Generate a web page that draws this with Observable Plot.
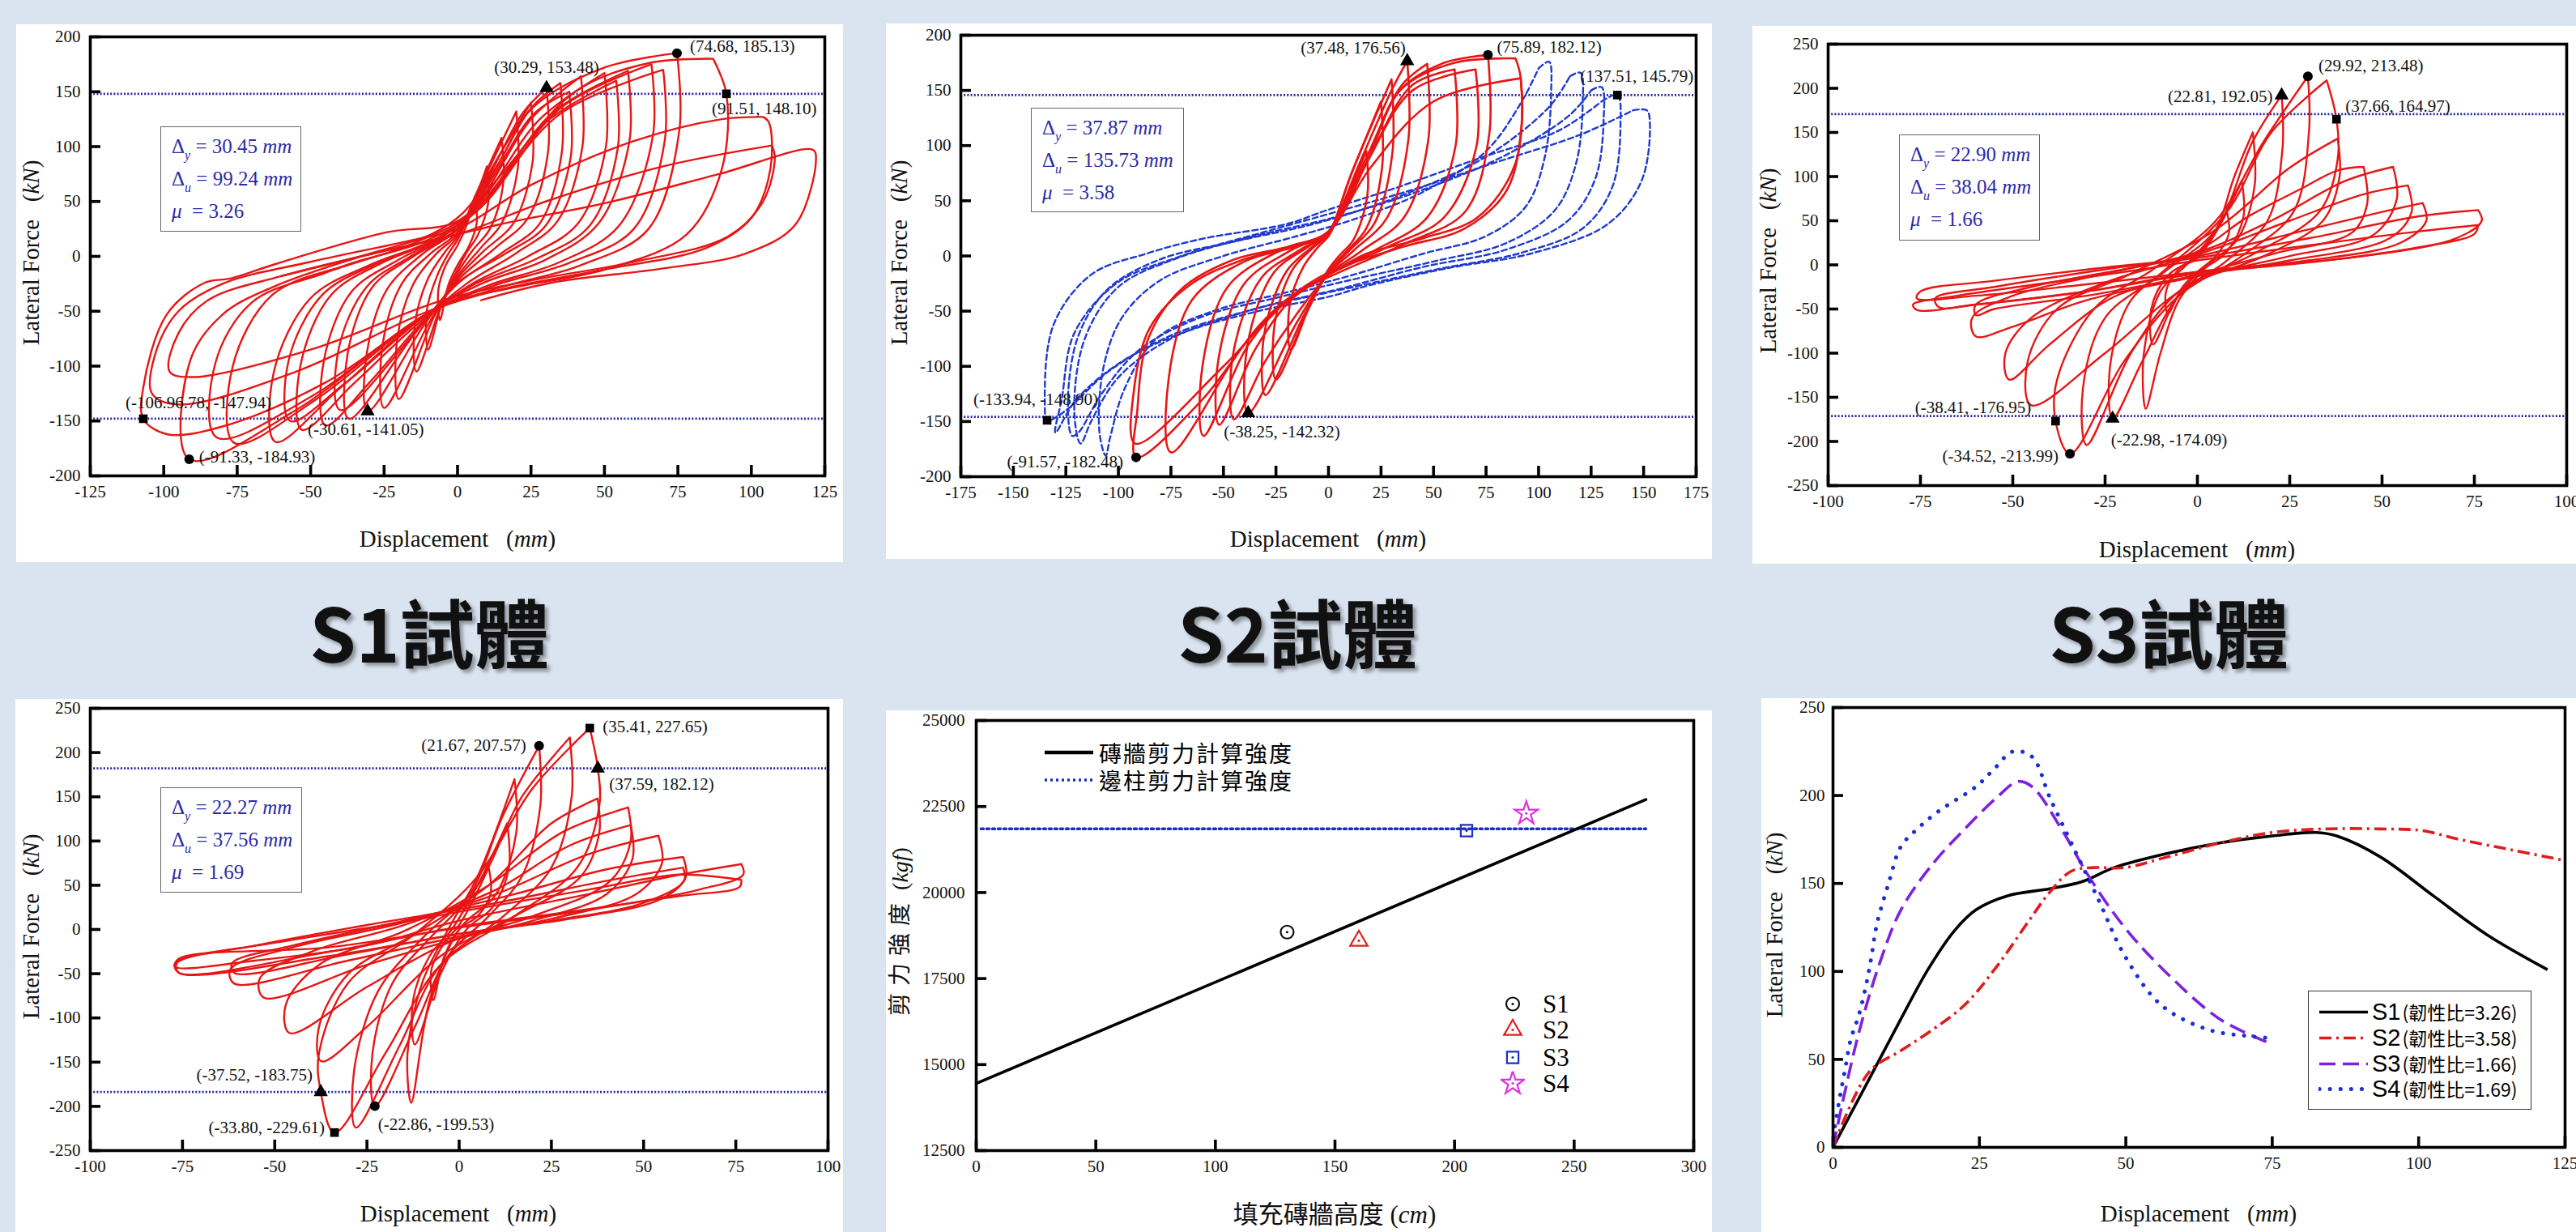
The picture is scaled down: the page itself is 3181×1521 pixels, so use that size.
<!DOCTYPE html>
<html><head><meta charset="utf-8">
<script src="https://cdn.jsdelivr.net/npm/d3@7"></script>
<script src="https://cdn.jsdelivr.net/npm/@observablehq/plot@0.6"></script>
<style>
body{margin:0;background:#dae4f0;width:3181px;height:1521px;position:relative;overflow:hidden;font-family:"Liberation Serif","Times New Roman","DejaVu Serif",serif;}
.panel{position:absolute;background:#fff;}
.panel>svg{position:absolute;left:0;top:0;overflow:visible;}
.xlab,.ylab{position:absolute;font-size:29px;white-space:nowrap;color:#111;line-height:1;font-family:"Liberation Serif","Times New Roman","DejaVu Serif",serif;}
.xlab{transform:translate(-50%,-50%);}
.ylab{transform:translate(-50%,-50%) rotate(-90deg);}
.info{position:absolute;border:1.5px solid #666;color:#2b2ba6;font-size:25px;line-height:40px;padding:4px 0 0 13px;box-sizing:border-box;background:#fff;white-space:nowrap;font-family:"Liberation Serif","Times New Roman","DejaVu Serif",serif;}
.info sub{font-size:16px;vertical-align:-8px;line-height:0;}
.title{position:absolute;font-family:"Noto Sans CJK TC",sans-serif;font-weight:700;font-size:92px;color:#111;transform:translate(-50%,-50%);text-shadow:4px 4px 4px rgba(0,0,0,0.35);white-space:nowrap;}
.leg{position:absolute;white-space:nowrap;}
.row{position:absolute;left:0;white-space:nowrap;display:flex;align-items:center;transform:translateY(-50%);line-height:1;}
.cjk{font-family:"Noto Sans CJK TC","Noto Sans CJK SC",sans-serif;}
.serif{font-family:"Liberation Serif","Times New Roman","DejaVu Serif",serif;}
.sans{font-family:"Liberation Sans","DejaVu Sans",sans-serif;}
</style>
</head><body>
<script>
// ---------------- DATA ----------------
const titles = ["S1試體", "S2試體", "S3試體"];

const ticksX125 = [-125,-100,-75,-50,-25,0,25,50,75,100,125];
const ticksX175 = [-175,-150,-125,-100,-75,-50,-25,0,25,50,75,100,125,150,175];
const ticksX100 = [-100,-75,-50,-25,0,25,50,75,100];
const ticksY200 = [-200,-150,-100,-50,0,50,100,150,200];
const ticksY250 = [-250,-200,-150,-100,-50,0,50,100,150,200,250];

// S1 hysteresis loops (displacement mm, force kN)
const s1Loops = [
"6,55 6.5,30 4,10 0,-8 -3,-25 -6,-58 -6.5,-30 -4,-8 0,10 3,28 6,55",
"10,82 10.5,50 7,20 3,3 0,-12 -5,-40 -10,-85 -10.5,-50 -7,-18 -3,3 0,15 5,45 10,82",
"15,108 15.5,65 11,25 5,5 0,-15 -6,-48 -14,-105 -14.5,-62 -10,-20 -4,5 0,18 6,55 15,108",
"20,132 20.5,80 15,30 8,8 0,-18 -8,-55 -20,-130 -20.5,-75 -15,-25 -7,3 0,20 8,65 20,132",
"25,140 25.5,85 19,30 9,5 0,-20 -10,-62 -25,-138 -25.5,-80 -19,-25 -9,3 0,22 9,68 25,140",
"30.29,153.48 30.8,95 24,35 13,8 0,-22 -12,-65 -30.61,-141.05 -31,-90 -24,-30 -12,2 0,25 12,80 22,130 30.29,153.48",
"35,158 35.5,95 28,30 15,3 0,-25 -15,-72 -37,-148 -37.5,-90 -29,-28 -15,0 0,25 12,75 25,135 35,158",
"38,150 38.5,90 30,28 16,2 0,-24 -14,-68 -40,-140 -40.5,-85 -31,-28 -16,0 0,24 12,72 26,130 38,150",
"42,164 42.5,100 34,32 20,3 3,-25 -12,-60 -30,-115 -45,-154 -45.5,-95 -36,-32 -20,-3 0,25 10,60 25,125 42,164",
"50,167 50.5,100 41,30 24,0 5,-25 -12,-58 -35,-115 -53,-158 -53.5,-100 -43,-35 -25,-5 -5,18 8,50 28,125 50,167",
"54,160 54.5,98 45,28 27,-2 6,-25 -12,-56 -38,-115 -57,-150 -57.5,-95 -46,-35 -27,-6 -6,17 8,48 30,122 54,160",
"58,169 58.5,105 48,30 30,-3 8,-25 -12,-55 -40,-120 -62,-169 -62.5,-105 -50,-38 -30,-8 -8,15 8,45 32,130 58,169",
"66,175 66.5,110 55,28 35,-5 10,-27 -12,-55 -48,-130 -76,-170 -76.5,-100 -63,-35 -38,-8 -10,15 8,45 35,135 66,175",
"70,170 70.5,105 60,25 38,-6 12,-27 -11,-53 -50,-128 -82,-165 -82.5,-98 -70,-42 -45,-15 -15,12 5,40 35,130 70,170",
"74.68,185.13 75.5,115 65,25 42,-8 15,-28 -10,-52 -55,-140 -91.33,-184.93 -91,-95 -80,-53 -62,-27 -33,0 -9,20 2,40 14,85 25,134 50,172 74.68,185.13",
"87,180 91.51,148.1 90,80 78,20 50,-12 20,-28 -5,-45 -45,-115 -80,-155 -99,-162 -106.96,-147.94 -107,-120 -99,-53 -86,-24 -77,-20 -62,-7 -24,22 0,32 15,75 40,150 65,176 87,180",
"104,127 106,122 106.5,80 100,35 85,8 50,-12 15,-30 -10,-50 -55,-105 -95,-135 -104,-125 -103,-90 -95,-50 -80,-25 -50,-5 -15,15 0,25 25,65 60,105 90,125 104,127",
"107,101 108,90 104,50 92,18 60,-5 25,-22 -5,-40 -50,-85 -90,-110 -98,-105 -95,-70 -85,-40 -60,-18 -25,5 0,20 30,50 70,82 107,101",
"-60,-18 -25,5 0,20 14,29 51,49 89,75 121,97 122,88 115,29 98,2.5 70,-11 32,-24 8,-40"
];
const s1Points = [
  {x:30.29, y:153.48, sym:"triangle", label:"(30.29, 153.48)"},
  {x:74.68, y:185.13, sym:"circle", label:"(74.68, 185.13)"},
  {x:91.51, y:148.10, sym:"square", label:"(91.51, 148.10)"},
  {x:-106.96, y:-147.94, sym:"square", label:"(-106.96.78, -147.94)"},
  {x:-91.33, y:-184.93, sym:"circle", label:"(-91.33, -184.93)"},
  {x:-30.61, y:-141.05, sym:"triangle", label:"(-30.61, -141.05)"}
];
const s1Limits = [148.10, -147.94];
const s1Info = ["30.45", "99.24", "3.26"];

// S2 hysteresis loops: red (solid) and blue (dashed)
const s2LoopsRed = [
"18,95 18.5,55 12,15 5,0 0,-12 -8,-40 -18,-85 -18.5,-45 -12,-10 -5,8 0,18 8,50 18,95",
"25,140 25.5,80 18,25 8,3 0,-14 -10,-50 -25,-112 -25.5,-60 -17,-12 -7,8 0,20 10,70 25,140",
"30,160 30.5,95 22,30 10,5 0,-15 -12,-55 -30,-126 -30.5,-70 -20,-14 -8,8 0,21 12,80 30,160",
"37.48,176.56 38,105 28,35 12,5 0,-16 -15,-60 -38.25,-142.32 -38.5,-80 -26,-15 -10,8 0,22 15,85 30,150 37.48,176.56",
"47,174 47.5,105 36,35 16,5 0,-17 -16,-55 -30,-95 -45,-148 -45.5,-90 -32,-20 -14,5 0,22 17,85 35,155 47,174",
"60,169 60.5,100 47,35 22,5 0,-17 -18,-40 -35,-85 -52,-153 -52.5,-95 -40,-25 -18,5 0,22 18,84 40,155 60,169",
"70,169 70.5,100 55,35 28,8 0,-17 -18,-38 -38,-80 -59.5,-163 -60,-100 -48,-28 -22,6 0,22 18,84 40,150 70,169",
"75.89,182.12 76.5,110 65,40 35,10 5,-15 -18,-37 -40,-80 -75,-178 -76,-110 -65,-40 -40,-5 -15,9 0,22 18,84 34,150 55,175 75.89,182.12",
"89,179 91.5,161 89,84 71,35 45,16 18,2 0,-17 -18,-37 -33,-63 -60,-130 -91.57,-182.48 -91,-140 -86,-76 -70,-30 -46,-4 -18,9 0,22 18,84 34,150 60,175 89,179",
"91.5,161 92,120 85,60 65,25 35,8 0,-15 -20,-40 -50,-100 -92,-170 -92.5,-120 -85,-65 -65,-25 -40,-3 -15,10 0,22 20,80 50,140 91.5,161"
];
const s2LoopsBlue = [
"100,170 105,176 106,150 103,90 94,45 75,18 45,2 10,-18 -20,-33 -55,-50 -82,-75 -97,-120 -104,-165 -106,-181 -109,-160 -107,-100 -98,-55 -80,-22 -50,0 -15,18 15,35 45,58 75,95 92,140 100,170",
"115,163 120,166 121,140 118,85 108,42 85,12 50,-5 10,-22 -25,-38 -60,-55 -90,-85 -108,-125 -119,-160 -122,-163 -124,-130 -119,-72 -105,-30 -80,-3 -45,13 -5,30 35,55 75,90 105,135 115,163",
"125,150 130,153 131,125 127,70 114,32 85,6 45,-10 5,-30 -35,-48 -75,-75 -100,-110 -113,-150 -118,-170 -121,-140 -116,-75 -100,-28 -72,-2 -35,18 5,36 45,60 85,92 115,128 125,150",
"130,140 137.51,145.79 139,120 135,62 121,25 92,3 52,-12 0,-33 -35,-48 -75,-72 -105,-105 -125,-140 -133.94,-148.9 -135,-135 -131,-63 -113,-17 -86,2.5 -60,15.6 -20.5,28.7 0,42 31,61 71,88 110,114 130,140",
"145,132 151.5,132 153,120 149,68 133,29 97,2.5 58,-10.6 18.6,-27 0,-37 -33.5,-50 -70,-70 -98.6,-96 -120,-130 -130,-160 -127,-130 -121,-70 -101,-25 -70,0 -30,22 0,38 40,60 80,85 120,110 145,132"
];
const s2Points = [
  {x:37.48, y:176.56, sym:"triangle", label:"(37.48, 176.56)"},
  {x:75.89, y:182.12, sym:"circle", label:"(75.89, 182.12)"},
  {x:137.51, y:145.79, sym:"square", label:"(137.51, 145.79)"},
  {x:-133.94, y:-148.90, sym:"square", label:"(-133.94, -148.90)"},
  {x:-91.57, y:-182.48, sym:"circle", label:"(-91.57, -182.48)"},
  {x:-38.25, y:-142.32, sym:"triangle", label:"(-38.25, -142.32)"}
];
const s2Limits = [145.79, -145.79];
const s2Info = ["37.87", "135.73", "3.58"];

// S3 hysteresis loops
const s3Loops = [
"8,60 8.5,35 5,10 0,-8 -4,-25 -8,-55 -8.5,-30 -5,-5 0,8 4,30 8,60",
"12,95 12.5,55 8,15 0,-10 -6,-40 -12,-90 -12.5,-50 -8,-12 0,10 6,45 12,95",
"15,150 15.5,90 11,30 3,0 -5,-40 -10,-100 -14,-163 -14.5,-100 -10,-30 -3,0 5,40 10,100 15,150",
"22.81,192.05 23,130 19,50 8,5 -5,-35 -15,-110 -22.98,-174.09 -23.5,-110 -18,-40 -8,-5 5,40 15,140 22.81,192.05",
"29.92,213.48 30.2,150 26,60 12,10 -5,-35 -20,-110 -34.52,-213.99 -38.41,-176.95 -38,-130 -28,-50 -12,-5 5,50 18,140 29.92,213.48",
"35,209 37.66,164.97 38,120 33,60 15,12 -5,-30 -18,-100 -30,-204 -31,-140 -25,-60 -10,-10 8,60 20,150 35,209",
"38,143 38.5,100 34,50 18,10 -3,-25 -25,-100 -45,-159 -46,-110 -38,-50 -18,-10 5,40 25,110 38,143",
"45,111 46,70 42,37 21,13 -1,-12 -22.5,-36 -40,-90 -51,-130 -52,-100 -45,-60 -25,-20 -1,13 13.5,54 28,86 38,107 45,111",
"53,111 54,75 48,35 25,10 0,-13 -30,-40 -50,-70 -60,-81 -61,-60 -50,-35 -25,-10 0,14 20,50 40,95 53,111",
"57,90 58,60 52,30 25,5 0,-12 -30,-35 -55,-50 -60,-57 -60,-45 -45,-25 -20,-5 0,12 25,50 45,80 57,90",
"61,70 62,50 55,25 30,5 0,-8 -30,-30 -60,-45 -70,-48 -71,-38 -55,-25 -25,-5 0,10 30,40 50,60 61,70",
"76,62 77,50 70,30 45,10 15,-2 0,-8 -30,-22 -60,-35 -76,-38 -75,-30 -55,-18 -25,-3 0,8 30,30 60,55 76,62",
"76,45 75,35 60,20 35,5 0,-10 -30,-30 -60,-45 -76,-51 -77,-45 -65,-35 -40,-20 -15,-5 0,5 30,22 60,38 76,45"
];
const s3Points = [
  {x:29.92, y:213.48, sym:"circle", label:"(29.92, 213.48)"},
  {x:22.81, y:192.05, sym:"triangle", label:"(22.81, 192.05)"},
  {x:37.66, y:164.97, sym:"square", label:"(37.66, 164.97)"},
  {x:-38.41, y:-176.95, sym:"square", label:"(-38.41, -176.95)"},
  {x:-34.52, y:-213.99, sym:"circle", label:"(-34.52, -213.99)"},
  {x:-22.98, y:-174.09, sym:"triangle", label:"(-22.98, -174.09)"}
];
const s3Limits = [170.8, -171.2];
const s3Info = ["22.90", "38.04", "1.66"];

// S4 hysteresis loops
const s4Loops = [
"8,70 8.5,40 5,15 0,0 -4,-30 -7,-80 -7.5,-45 -4,-15 0,5 4,35 8,70",
"13,120 13.5,70 9,25 2,0 -5,-50 -12,-130 -12.5,-80 -8,-30 -2,0 5,50 13,120",
"15,170 15.5,110 10,40 0,0 -8,-80 -13,-196 -14,-140 -10,-60 -3,0 5,60 15,170",
"21.67,207.57 22,140 17,60 8,15 -3,-30 -12,-110 -22.86,-199.53 -23.5,-140 -18,-60 -8,-10 3,40 12,130 21.67,207.57",
"30,217 30.5,150 25,70 12,15 -5,-40 -16,-130 -28,-224 -28.5,-160 -22,-70 -10,-10 5,50 17,150 30,217",
"35.41,227.65 37.59,182.12 38,140 32,70 15,15 -5,-40 -20,-140 -33.8,-229.61 -37.52,-183.75 -38,-140 -30,-60 -12,-5 5,60 20,160 35.41,227.65",
"37.5,148 38,110 33,60 15,15 -5,-30 -25,-110 -37.4,-149 -38,-110 -30,-50 -12,-5 8,50 25,120 37.5,148",
"45.8,138 46.5,100 41,55 20,15 -3,-15 -25,-65 -46,-117 -47,-85 -38,-40 -15,-2 8,50 28,110 45.8,138",
"46.5,118 47,80 40,40 20,10 0,-10 -25,-40 -53,-77 -54,-55 -40,-25 -15,5 10,45 30,95 46.5,118",
"54,106 55,75 48,40 25,12 0,-8 -30,-35 -61,-61 -62,-45 -45,-20 -15,8 10,40 35,85 54,106",
"60.7,82 61.5,60 55,35 30,12 0,-5 -30,-28 -61,-49 -61.5,-38 -45,-18 -15,10 15,40 40,68 60.7,82",
"60.7,70 61,55 50,30 25,10 0,-5 -35,-30 -76,-49 -76.5,-38 -55,-18 -25,5 10,30 40,55 60.7,70",
"76.5,74 77,62 65,45 35,22 0,2 -35,-20 -76,-33 -77,-42 -55,-35 -25,-18 0,10 35,40 60,62 76.5,74",
"76.5,56 76,48 60,38 30,20 0,3 -35,-25 -76,-49 -77,-38 -50,-15 -20,5 0,20 35,45 60,62 76.5,56"
];
const s4Points = [
  {x:21.67, y:207.57, sym:"circle", label:"(21.67, 207.57)"},
  {x:35.41, y:227.65, sym:"square", label:"(35.41, 227.65)"},
  {x:37.59, y:182.12, sym:"triangle", label:"(37.59, 182.12)"},
  {x:-37.52, y:-183.75, sym:"triangle", label:"(-37.52, -183.75)"},
  {x:-33.80, y:-229.61, sym:"square", label:"(-33.80, -229.61)"},
  {x:-22.86, y:-199.53, sym:"circle", label:"(-22.86, -199.53)"}
];
const s4Limits = [182.12, -183.75];
const s4Info = ["22.27", "37.56", "1.69"];

// Shear strength vs infill height
const heightTicks = [0,50,100,150,200,250,300];
const shearTicks = [12500,15000,17500,20000,22500,25000];
const wallShear = [{h:0, v:14450}, {h:280, v:22700}];
const columnShear = [{h:2, v:21850}, {h:280, v:21850}];
const specimens = [
  {name:"S1", h:130, v:18850},
  {name:"S2", h:160, v:18600},
  {name:"S3", h:205, v:21800},
  {name:"S4", h:230, v:22300}
];
const shearLegend = ["磚牆剪力計算強度", "邊柱剪力計算強度"];

// Envelope curves
const envTicksX = [0,25,50,75,100,125];
const envTicksY = [0,50,100,150,200,250];
const envNames = ["S1","S2","S3","S4"];
const envDuctility = ["3.26","3.58","1.66","1.69"];
const envS1 = [[0,0],[6.2,39],[11.6,73],[16.2,101],[20.7,123],[24.4,135],[29.8,143],[37,147],[42.5,151],[48,159],[57,167],[66,173],[75,177],[82.5,179],[86,177],[93.5,165],[102.5,143],[111.6,121],[122,101]];
const envS2 = [[0,0],[6.2,43],[11.6,55],[16.2,65],[22.5,81],[28,103],[33.5,129],[37,145],[40.7,157],[44.4,159],[49.8,159],[57,165],[66,173],[75,179],[84,181],[93.5,181],[100.7,180],[107,175],[116,169],[125,163]];
const envS3 = [[0,0],[1.6,25],[4.4,65],[8,105],[11.6,135],[17,161],[22.5,181],[28,199],[31.6,208],[34,205],[39,181],[43.5,155],[49.8,125],[57,99],[66,73],[74,60]];
const envS4 = [[0,0],[0.3,11],[1.2,29],[2.1,45],[3,61],[4.4,75],[5.7,93],[6.6,109],[7.5,127],[9.4,149],[11.6,171],[14.4,181],[18,191],[24.4,205],[27.5,215],[30.7,225],[34,222],[37,199],[40.7,173],[45.3,141],[49.8,109],[56,81],[64,67],[71.6,63],[75.3,62]];

// ---------------- RENDER ----------------
const FONT = "Liberation Serif, Times New Roman, DejaVu Serif, serif";
const fmt = d => String(d);

function parseLoops(loops) {
  return loops.flatMap((s, i) => s.trim().split(/\s+/).map(p => {
    const [x, y] = p.split(",").map(Number);
    return {x, y, loop: i};
  }));
}

function panel(box) {
  const div = document.createElement("div");
  div.className = "panel";
  Object.assign(div.style, {left: box.left + "px", top: box.top + "px", width: box.W + "px", height: box.H + "px"});
  document.body.appendChild(div);
  return div;
}

function addHTML(div, cls, pos, html) {
  const e = document.createElement("div");
  e.className = cls;
  for (const k in pos) e.style[k] = typeof pos[k] === "number" ? pos[k] + "px" : pos[k];
  e.innerHTML = html;
  div.appendChild(e);
  return e;
}

function frameMarks(xTicks, yTicks, pw, ph) {
  return [
    Plot.tickX(xTicks, {x: d => d, insetTop: ph - 13, stroke: "#000", strokeWidth: 3.6}),
    Plot.tickY(yTicks, {y: d => d, insetRight: pw - 13, stroke: "#000", strokeWidth: 3.6}),
    Plot.frame({stroke: "#000", strokeWidth: 3.6})
  ];
}

function baseOptions(box, m) {
  return {
    width: box.W, height: box.H,
    marginTop: m.t, marginRight: m.r, marginBottom: m.b, marginLeft: m.l,
    style: {fontFamily: FONT, fontSize: "21px", background: "transparent", color: "#111", overflow: "visible"}
  };
}

function hysteresis(cfg) {
  const {box, m, xDomain, yDomain, xTicks, yTicks, series, points, offsets, limits, info, infoPos, xl, yl} = cfg;
  const pw = box.W - m.l - m.r, ph = box.H - m.t - m.b;
  const div = panel(box);
  const marks = [
    Plot.ruleY(limits, {y: d => d, stroke: "#2424a0", strokeWidth: 2.8, strokeDasharray: "2,2.2"})
  ];
  for (const s of series) {
    marks.push(Plot.line(parseLoops(s.loops), {x: "x", y: "y", z: "loop", stroke: s.color, strokeWidth: s.width, strokeDasharray: s.dash, curve: "catmull-rom", clip: true}));
  }
  points.forEach((p, i) => {
    marks.push(Plot.dot([p], {x: "x", y: "y", symbol: p.sym, r: p.sym === "triangle" ? 6.5 : 6, fill: "#000"}));
    const o = offsets[i];
    marks.push(Plot.text([p], {x: "x", y: "y", text: "label", dx: o[0], dy: o[1], textAnchor: o[2], fontSize: 21, fontFamily: FONT, fill: "#111"}));
  });
  marks.push(...frameMarks(xTicks, yTicks, pw, ph));
  const svg = Plot.plot({
    ...baseOptions(box, m),
    x: {domain: xDomain, ticks: xTicks, tickSize: 0, tickPadding: 12, tickFormat: fmt, label: null},
    y: {domain: yDomain, ticks: yTicks, tickSize: 0, tickPadding: 12, tickFormat: fmt, label: null},
    marks
  });
  div.appendChild(svg);
  addHTML(div, "xlab", {left: xl[0], top: xl[1]}, "Displacement&nbsp;&nbsp;&nbsp;(<i>mm</i>)");
  addHTML(div, "ylab", {left: yl[0], top: yl[1]}, "Lateral Force&nbsp;&nbsp;&nbsp;(<i>kN</i>)");
  addHTML(div, "info", {left: infoPos[0], top: infoPos[1], width: infoPos[2], height: infoPos[3]},
    `<div>&Delta;<sub><i>y</i></sub> = ${info[0]} <i>mm</i></div><div>&Delta;<sub><i>u</i></sub> = ${info[1]} <i>mm</i></div><div><i>&mu;</i>&nbsp; = ${info[2]}</div>`);
}

const RED = "#e81515";

hysteresis({
  box: {left: 20, top: 30, W: 1021, H: 664}, m: {t: 15, r: 23, b: 107, l: 91},
  xDomain: [-125, 125], yDomain: [-200, 200], xTicks: ticksX125, yTicks: ticksY200,
  series: [{loops: s1Loops, color: RED, width: 2.4}],
  points: s1Points,
  offsets: [[0,-25,"middle"],[16,-8,"start"],[-18,18,"start"],[-22,-20,"start"],[12,-3,"start"],[-74,23,"start"]],
  limits: s1Limits, info: s1Info, infoPos: [178, 126, 174, 130], xl: [545, 635], yl: [18, 282]
});

hysteresis({
  box: {left: 1094, top: 29, W: 1020, H: 661}, m: {t: 14, r: 20, b: 102, l: 92},
  xDomain: [-175, 175], yDomain: [-200, 200], xTicks: ticksX175, yTicks: ticksY200,
  series: [{loops: s2LoopsBlue, color: "#1f3ad0", width: 2.4, dash: "7,4"}, {loops: s2LoopsRed, color: RED, width: 2.6}],
  points: s2Points,
  offsets: [[-2,-16,"end"],[11,-10,"start"],[-46,-23,"start"],[-91,-26,"start"],[-16,6,"end"],[-30,23,"start"]],
  limits: s2Limits, info: s2Info, infoPos: [179, 104, 189, 129], xl: [546, 636], yl: [16, 283]
});

hysteresis({
  box: {left: 2164, top: 32, W: 1017, H: 664}, m: {t: 22, r: 12, b: 97, l: 93},
  xDomain: [-100, 100], yDomain: [-250, 250], xTicks: ticksX100, yTicks: ticksY250,
  series: [{loops: s3Loops, color: RED, width: 2.4}],
  points: s3Points,
  offsets: [[13,-13,"start"],[-11,2,"end"],[11,-16,"start"],[-30,-17,"end"],[-14,3,"end"],[-2,27,"start"]],
  limits: s3Limits, info: s3Info, infoPos: [181, 134, 174, 131], xl: [549, 646], yl: [19, 290]
});

hysteresis({
  box: {left: 19, top: 863, W: 1022, H: 658}, m: {t: 11, r: 19, b: 101, l: 92},
  xDomain: [-100, 100], yDomain: [-250, 250], xTicks: ticksX100, yTicks: ticksY250,
  series: [{loops: s4Loops, color: RED, width: 2.4}],
  points: s4Points,
  offsets: [[-16,-1,"end"],[16,-2,"start"],[14,20,"start"],[-10,-21,"end"],[-12,-6,"end"],[4,23,"start"]],
  limits: s4Limits, info: s4Info, infoPos: [179, 109, 175, 130], xl: [547, 635], yl: [19, 281]
});

// ---- Panel 5: shear strength ----
(function() {
  const box = {left: 1094, top: 877, W: 1020, H: 644}, m = {t: 12, r: 23, b: 101, l: 111};
  const pw = box.W - m.l - m.r, ph = box.H - m.t - m.b;
  const div = panel(box);
  const colors = {S1: "#111", S2: "#e02020", S3: "#1f2fc0", S4: "#e030e0"};
  const syms = {S1: "circle", S2: "triangle", S3: "square", S4: "star"};
  const marks = [
    Plot.line(columnShear, {x: "h", y: "v", stroke: "#1f2fb5", strokeWidth: 3.6, strokeDasharray: "3,4"}),
    Plot.line(wallShear, {x: "h", y: "v", stroke: "#000", strokeWidth: 3.6})
  ];
  for (const s of specimens) {
    marks.push(Plot.dot([s], {x: "h", y: "v", symbol: syms[s.name], r: s.name === "S4" ? 9 : 8, stroke: colors[s.name], strokeWidth: 2.2, fill: "none"}));
    marks.push(Plot.dot([s], {x: "h", y: "v", r: 1.6, fill: colors[s.name]}));
  }
  marks.push(...frameMarks(heightTicks, shearTicks, pw, ph));
  const svg = Plot.plot({
    ...baseOptions(box, m),
    x: {domain: [0, 300], ticks: heightTicks, tickSize: 0, tickPadding: 12, tickFormat: fmt, label: null},
    y: {domain: [12500, 25000], ticks: shearTicks, tickSize: 0, tickPadding: 14, tickFormat: fmt, label: null},
    marks
  });
  div.appendChild(svg);
  addHTML(div, "xlab", {left: 554, top: 621, fontSize: "31px"}, `<span class="cjk">填充磚牆高度</span>&nbsp;(<i>cm</i>)`);
  addHTML(div, "ylab", {left: 16, top: 273, fontSize: "28px"}, `<span class="cjk" style="letter-spacing:9px">剪力強度</span>&nbsp;(<i>kgf</i>)`);
  // line legend
  const lineSvg = (stroke, w, dash) => `<svg width="62" height="12"><line x1="1" y1="6" x2="61" y2="6" stroke="${stroke}" stroke-width="${w}" ${dash ? `stroke-dasharray="${dash}"` : ""}/></svg>`;
  const lg = addHTML(div, "leg", {left: 195, top: 0, width: 400, height: 120}, "");
  lg.innerHTML =
    `<div class="row cjk" style="top:52px;font-size:28px;letter-spacing:2px">${lineSvg("#000", 4.5)}<span style="margin-left:6px">${shearLegend[0]}</span></div>` +
    `<div class="row cjk" style="top:86px;font-size:28px;letter-spacing:2px">${lineSvg("#1f2fb5", 3.6, "3,4")}<span style="margin-left:6px">${shearLegend[1]}</span></div>`;
  const symPath = {circle: d3.symbolCircle, triangle: d3.symbolTriangle, square: d3.symbolSquare, star: d3.symbolStar};
  const ys = [362, 394, 428, 460];
  const lg2 = addHTML(div, "leg", {left: 759, top: 0, width: 200, height: 500}, "");
  lg2.innerHTML = specimens.map((s, i) => {
    const r = s.name === "S4" ? 9 : 8;
    const p = d3.symbol(symPath[syms[s.name]], Math.PI * r * r)();
    return `<div class="row serif" style="top:${ys[i]}px;font-size:31px"><svg width="30" height="30" viewBox="-15 -15 30 30"><path d="${p}" fill="none" stroke="${colors[s.name]}" stroke-width="2.2"/><circle r="1.6" fill="${colors[s.name]}"/></svg><span style="margin-left:22px">${s.name}</span></div>`;
  }).join("");
})();

// ---- Panel 6: envelope curves ----
(function() {
  const box = {left: 2175, top: 862, W: 1006, H: 659}, m = {t: 11, r: 14, b: 105, l: 88};
  const pw = box.W - m.l - m.r, ph = box.H - m.t - m.b;
  const div = panel(box);
  const styles = [
    {data: envS1, stroke: "#000", dash: null, w: 3.6},
    {data: envS2, stroke: "#e01b1b", dash: "15,6,3,6", w: 3.6},
    {data: envS3, stroke: "#7d22df", dash: "20,9", w: 3.6},
    {data: envS4, stroke: "#1a2fd6", dash: "0.1,13", w: 5}
  ];
  const marks = styles.map(s => Plot.line(s.data, {x: d => d[0], y: d => d[1], stroke: s.stroke, strokeWidth: s.w, strokeDasharray: s.dash, strokeLinecap: s.w === 5 ? "round" : "butt", curve: "catmull-rom", clip: true}));
  marks.push(...frameMarks(envTicksX, envTicksY, pw, ph));
  const svg = Plot.plot({
    ...baseOptions(box, m),
    x: {domain: [0, 125], ticks: envTicksX, tickSize: 0, tickPadding: 12, tickFormat: fmt, label: null},
    y: {domain: [0, 250], ticks: envTicksY, tickSize: 0, tickPadding: 10, tickFormat: fmt, label: null},
    marks
  });
  div.appendChild(svg);
  addHTML(div, "xlab", {left: 540, top: 636}, "Displacement&nbsp;&nbsp;&nbsp;(<i>mm</i>)");
  addHTML(div, "ylab", {left: 16, top: 280}, "Lateral Force&nbsp;&nbsp;&nbsp;(<i>kN</i>)");
  const box6 = addHTML(div, "leg", {left: 675, top: 361, width: 276, height: 147, border: "1.5px solid #333", boxSizing: "border-box", background: "#fff"}, "");
  const ys = [25, 57, 89, 120];
  box6.innerHTML = styles.map((s, i) => `<div class="row" style="top:${ys[i]}px;left:12px"><svg width="62" height="12"><line x1="1" y1="6" x2="61" y2="6" stroke="${s.stroke}" stroke-width="${s.w}" ${s.dash ? `stroke-dasharray="${s.dash}"` : ""} stroke-linecap="${s.w === 5 ? "round" : "butt"}"/></svg><span class="sans" style="font-size:29px;margin-left:4px">${envNames[i]}</span><span class="cjk" style="font-size:23px;margin-left:2px">(韌性比=${envDuctility[i]})</span></div>`).join("");
})();

// ---- Titles ----
[530, 1602, 2678].forEach((x, i) => addHTML(document.body, "title", {left: x, top: 777}, titles[i]));
</script>
</body></html>
